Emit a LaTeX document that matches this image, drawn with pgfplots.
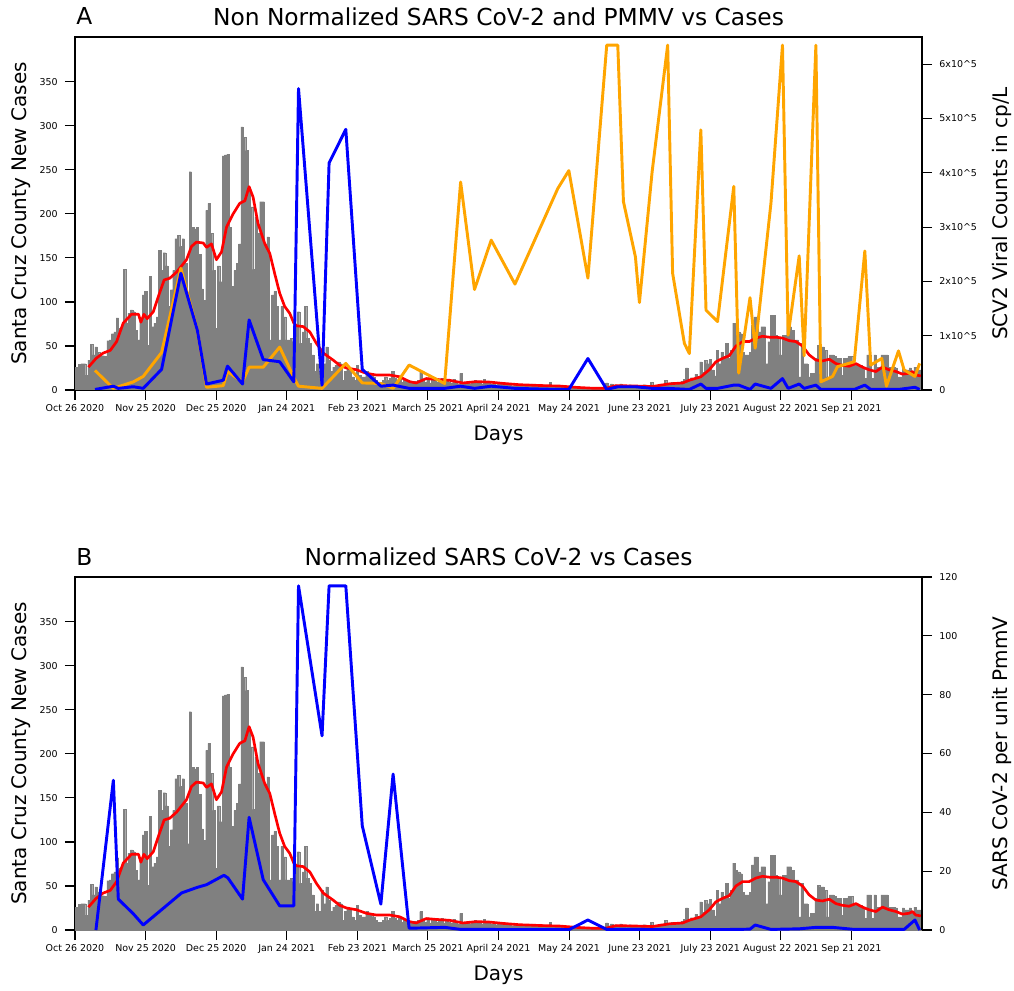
\documentclass[border=0pt]{standalone}
\usepackage{fontspec}
\setmainfont{DejaVu Sans}
\usepackage{pgfplots}
\pgfplotsset{compat=1.18}
\usepackage{pgfplotstable}

\definecolor{mplgray}{HTML}{808080}
\definecolor{mplorange}{HTML}{FFA500}

\pgfplotstableread[row sep=\\]{
d c\\
0 26\\ 1 26\\ 2 29\\ 3 30\\ 4 30\\ 5 17\\ 6 34\\ 7 52\\ 8 40\\ 9 49\\
10 43\\ 11 38\\ 12 39\\ 13 38\\ 14 56\\ 15 57\\ 16 64\\ 17 66\\ 18 82\\ 19 70\\
20 72\\ 21 137\\ 22 76\\ 23 87\\ 24 91\\ 25 89\\ 26 68\\ 27 57\\ 28 79\\ 29 108\\
30 112\\ 31 51\\ 32 129\\ 33 72\\ 34 76\\ 35 83\\ 36 159\\ 37 136\\ 38 156\\ 39 141\\
40 95\\ 41 114\\ 42 136\\ 43 172\\ 44 176\\ 45 163\\ 46 172\\ 47 144\\ 48 98\\ 49 248\\
50 185\\ 51 183\\ 52 185\\ 53 154\\ 54 115\\ 55 102\\ 56 204\\ 57 212\\ 58 178\\ 59 136\\
60 70\\ 61 141\\ 62 123\\ 63 266\\ 64 267\\ 65 268\\ 66 185\\ 67 118\\ 68 136\\ 69 144\\
70 166\\ 71 299\\ 72 287\\ 73 272\\ 74 227\\ 75 208\\ 76 137\\ 77 197\\ 78 178\\ 79 214\\
80 214\\ 81 166\\ 82 174\\ 83 57\\ 84 108\\ 85 112\\ 86 95\\ 87 57\\ 88 95\\ 89 83\\
90 57\\ 91 57\\ 92 59\\ 93 55\\ 94 72\\ 95 89\\ 96 53\\ 97 66\\ 98 95\\ 99 59\\
100 53\\ 101 40\\ 102 21\\ 103 30\\ 104 21\\ 105 45\\ 106 30\\ 107 49\\ 108 34\\ 109 21\\
110 26\\ 111 28\\ 112 32\\ 113 30\\ 114 11\\ 115 21\\ 116 26\\ 117 23\\ 118 15\\ 119 11\\
120 28\\ 121 17\\ 122 15\\ 123 15\\ 124 21\\ 125 19\\ 126 17\\ 127 15\\ 128 11\\ 129 9\\
130 9\\ 131 11\\ 132 15\\ 133 11\\ 134 13\\ 135 21\\ 136 13\\ 137 11\\ 138 15\\ 139 9\\
140 12\\ 141 10\\ 142 8\\ 143 9\\ 144 10\\ 145 7\\ 146 11\\ 147 21\\ 148 12\\ 149 9\\
150 14\\ 151 8\\ 152 11\\ 153 12\\ 154 9\\ 155 10\\ 156 13\\ 157 8\\ 158 11\\ 159 9\\
160 8\\ 161 12\\ 162 10\\ 163 7\\ 164 19\\ 165 9\\ 166 8\\ 167 10\\ 168 7\\ 169 9\\
170 11\\ 171 8\\ 172 9\\ 173 7\\ 174 12\\ 175 8\\ 176 9\\ 177 7\\ 178 8\\ 179 6\\
180 9\\ 181 7\\ 182 6\\ 183 8\\ 184 7\\ 185 6\\ 186 5\\ 187 7\\ 188 6\\ 189 5\\
190 6\\ 191 5\\ 192 6\\ 193 4\\ 194 7\\ 195 5\\ 196 6\\ 197 4\\ 198 5\\ 199 6\\
200 4\\ 201 5\\ 202 9\\ 203 4\\ 204 5\\ 205 3\\ 206 4\\ 207 5\\ 208 3\\ 209 4\\
210 3\\ 211 2\\ 212 3\\ 213 3\\ 214 2\\ 215 3\\ 216 2\\ 217 2\\ 218 1\\ 219 2\\
220 2\\ 221 1\\ 222 2\\ 223 2\\ 224 1\\ 225 3\\ 226 8\\ 227 5\\ 228 7\\ 229 4\\
230 6\\ 231 5\\ 232 7\\ 233 4\\ 234 5\\ 235 3\\ 236 6\\ 237 4\\ 238 5\\ 239 4\\
240 3\\ 241 4\\ 242 6\\ 243 3\\ 244 4\\ 245 9\\ 246 4\\ 247 5\\ 248 6\\ 249 7\\
250 6\\ 251 11\\ 252 8\\ 253 7\\ 254 9\\ 255 6\\ 256 8\\ 257 7\\ 258 10\\ 259 12\\
260 25\\ 261 10\\ 262 14\\ 263 12\\ 264 18\\ 265 15\\ 266 32\\ 267 20\\ 268 34\\ 269 30\\
270 35\\ 271 23\\ 272 16\\ 273 45\\ 274 30\\ 275 43\\ 276 38\\ 277 53\\ 278 36\\ 279 45\\
280 76\\ 281 68\\ 282 66\\ 283 64\\ 284 43\\ 285 40\\ 286 40\\ 287 43\\ 288 74\\ 289 83\\
290 83\\ 291 66\\ 292 72\\ 293 72\\ 294 30\\ 295 55\\ 296 85\\ 297 85\\ 298 62\\ 299 60\\
300 40\\ 301 62\\ 302 62\\ 303 72\\ 304 72\\ 305 68\\ 306 57\\ 307 57\\ 308 15\\ 309 53\\
310 30\\ 311 30\\ 312 15\\ 313 19\\ 314 19\\ 315 36\\ 316 51\\ 317 49\\ 318 49\\ 319 45\\
320 15\\ 321 40\\ 322 40\\ 323 38\\ 324 36\\ 325 36\\ 326 17\\ 327 36\\ 328 36\\ 329 38\\
330 38\\ 331 30\\ 332 30\\ 333 28\\ 334 28\\ 335 26\\ 336 13\\ 337 40\\ 338 40\\ 339 13\\
340 40\\ 341 26\\ 342 26\\ 343 40\\ 344 40\\ 345 40\\ 346 26\\ 347 26\\ 348 26\\ 349 25\\
350 15\\ 351 15\\ 352 25\\ 353 23\\ 354 23\\ 355 25\\ 356 19\\ 357 26\\ 358 23\\ 359 23\\
}\cases

\pgfplotstableread[row sep=\\]{
d r\\
5.7 26\\ 9 36\\ 12 42\\ 15 45\\ 17.7 55\\ 20.5 76\\ 24 86\\ 27 86\\ 28 77\\ 29.3 86\\
30.7 81\\ 33.3 89\\ 35.4 106\\ 37.9 125\\ 40.3 127\\ 43.2 134\\ 47.4 148\\ 49.5 163\\ 51.6 168\\ 54.5 167\\
55.9 162\\ 58 166\\ 60.1 148\\ 62.3 157\\ 64.4 185\\ 67.2 200\\ 70 212\\ 72.2 215\\ 74 231\\ 75.7 219\\
77.8 189\\ 80.7 166\\ 82.8 155\\ 84.9 132\\ 87 110\\ 89.1 95\\ 91.3 87\\ 93 76\\ 94.1 73\\ 97 72\\
99.8 66\\ 102.6 53\\ 105.5 42\\ 109.7 34\\ 112.5 28\\ 115.4 25\\ 119.6 23\\ 123.8 19\\ 128.1 17\\ 133.8 17\\
138 15\\ 142.2 9.5\\ 145 8\\ 149.3 13\\ 153.6 12\\ 159.2 11\\ 164.9 8\\ 170.5 9.5\\ 176.2 9\\ 181.9 7.5\\
189 6\\ 198.9 5\\ 206 4.5\\ 213 3\\ 220 2\\ 225.7 2\\ 230 5\\ 238.5 4.5\\ 245.5 4\\ 252.6 7\\
258.3 8\\ 261 11\\ 266 15\\ 269.6 23\\ 272.4 32\\ 275.3 36\\ 278.1 39\\ 280.9 50\\ 283.8 55\\ 286.6 55\\
289.4 59\\ 292.2 61\\ 295.1 60\\ 297.9 60\\ 300.7 59\\ 303.6 56\\ 306.4 55\\ 309.2 50\\ 312 40\\ 314.9 34\\
317.7 33\\ 320.6 35\\ 323.4 30\\ 326.2 28\\ 329 27\\ 331.9 30\\ 334.7 26\\ 337.5 23\\ 340.4 21\\ 343.2 26\\
346 23\\ 348.9 21\\ 351.7 18\\ 354.5 19\\ 356 21\\ 357.3 17\\ 359.5 16\\
}\avg

% PMMV (units of 1e5 cp/L)
\pgfplotstableread[row sep=\\]{
d o\\
8.5 0.36\\ 16.3 0.03\\ 18.4 0.06\\ 24.8 0.15\\ 29 0.25\\ 36.8 0.69\\ 45 2.24\\ 52 1.1\\ 55.9 0.05\\ 63 0.08\\
64.8 0.34\\ 71.2 0.15\\ 74 0.42\\ 80 0.42\\ 87 0.79\\ 93 0.23\\ 95 0.07\\ 105 0.03\\ 115.1 0.49\\ 122.1 0.13\\
130 0.12\\ 135.2 0.03\\ 142 0.46\\ 157.1 0.12\\ 163.9 3.83\\ 169.8 1.85\\ 176.9 2.76\\ 187 1.95\\ 205.2 3.71\\ 209.9 4.04\\
218 2.06\\ 226 6.35\\ 230.7 6.35\\ 233.1 3.47\\ 238.2 2.45\\ 239.9 1.61\\ 245.3 4.02\\ 251.9 6.35\\ 254 2.15\\ 259 0.86\\
261.1 0.67\\ 266 4.79\\ 268.2 1.47\\ 273.1 1.26\\ 280 3.75\\ 282.1 0.31\\ 286.9 1.7\\ 289.1 0.77\\ 295.8 3.44\\ 300.7 6.35\\
303.1 1.01\\ 307.8 2.47\\ 309.9 0.63\\ 314.9 6.35\\ 317 0.15\\ 322 0.25\\ 324.1 0.43\\ 331.2 0.52\\ 335.7 2.56\\ 338.2 0.46\\
342.9 0.58\\ 344.9 0.07\\ 350 0.72\\ 352.4 0.37\\ 357 0.25\\ 359 0.49\\
}\pmmv

% SARS CoV-2 (units of 1e5 cp/L)
\pgfplotstableread[row sep=\\]{
d b\\
8.5 0.01\\ 16.3 0.07\\ 18.4 0.03\\ 24.8 0.06\\ 29 0.03\\ 36.8 0.38\\ 45 2.15\\ 52 1.1\\ 55.9 0.11\\ 63 0.18\\
64.8 0.44\\ 71.2 0.11\\ 74 1.29\\ 80 0.56\\ 87 0.52\\ 93 0.15\\ 95 5.55\\ 105 0.09\\ 108 4.18\\ 115.1 4.8\\
122.1 0.38\\ 130 0.07\\ 135.2 0.09\\ 142 0.03\\ 157.1 0.03\\ 163.9 0.07\\ 169.8 0.03\\ 176.9 0.07\\ 187 0.03\\ 205.2 0.01\\
209.9 0.01\\ 218 0.58\\ 226 0.01\\ 230.7 0.06\\ 238.2 0.06\\ 245.3 0.03\\ 251.9 0.03\\ 261.1 0.01\\ 266 0.11\\ 268.2 0.03\\
273.1 0.03\\ 280 0.09\\ 282.1 0.09\\ 286.9 0.01\\ 289.1 0.11\\ 295.8 0.03\\ 300.7 0.21\\ 303.1 0.03\\ 307.8 0.11\\ 309.9 0.03\\
314.9 0.09\\ 317 0.01\\ 331.2 0.01\\ 335.7 0.09\\ 338.2 0.01\\ 350 0.01\\ 357 0.05\\ 359 0.01\\
}\scvA

% SARS CoV-2 per unit PMMV
\pgfplotstableread[row sep=\\]{
d n\\
8.9 0\\ 16.3 50.9\\ 18.4 10.5\\ 24.8 5.5\\ 29 1.7\\ 36.8 6.9\\ 45.3 12.6\\ 52 14.5\\ 55.9 15.4\\ 63.3 18.6\\
65 17.7\\ 71.2 10.5\\ 74 38.3\\ 80 17.1\\ 87 8.2\\ 93 8.2\\ 95 117\\ 105 66\\ 108 117\\ 115.1 117\\
122.1 35.4\\ 130 8.8\\ 135.2 53\\ 142 0.6\\ 157.1 0.9\\ 163.9 0.2\\ 176.9 0.2\\ 187 0.1\\ 209.9 0.1\\ 218 3.4\\
226 0.2\\ 238.2 0.2\\ 261.1 0.1\\ 282.1 0.2\\ 286.9 0.3\\ 289.1 1.7\\ 295.8 0.2\\ 307.8 0.4\\ 314.9 0.9\\ 322 0.9\\
331.2 0.2\\ 352.4 0.2\\ 357 3.4\\ 359 0\\
}\scvB

\pgfplotsset{
  common/.style={
    scale only axis, width=635.25pt, height=264.75pt, anchor=south west,
    xmin=0, xmax=360, ymin=0,
    axis line style={line width=1.1pt},
    tick align=outside, major tick length=7.5pt,
    every tick/.style={black, line width=0.8pt},
    tick label style={font=\fontsize{7.1}{8.5}\selectfont},
    /pgf/number format/assume math mode=true,
    label style={font=\fontsize{15}{18}\selectfont},
  },
  basel/.style={
    common, ymax=401,
    xtick={0,30,...,330},
    xticklabels={Oct 26 2020, Nov 25 2020, Dec 25 2020, Jan 24 2021, Feb 23 2021, March 25 2021, April 24 2021, May 24 2021, June 23 2021, July 23 2021, August 22 2021, Sep 21 2021},
    ytick={0,50,...,350},
    xtick pos=left, ytick pos=left,
    yticklabel style={xshift=-2pt},
    xlabel={Days},
    xlabel style={at={(axis description cs:0.5,-0.127)}, anchor=center},
    ylabel={Santa Cruz County New Cases},
    ylabel style={at={(axis description cs:-0.064,0.5)}, anchor=center},
    title style={at={(axis description cs:0.5,1)}, anchor=base, yshift=2.5pt, font=\fontsize{17.5}{21}\selectfont},
  },
  baser/.style={
    common,
    axis x line=none, axis y line*=right,
    yticklabel style={xshift=2pt},
    ylabel style={at={(axis description cs:1.094,0.5)}, anchor=center},
  },
}

\begin{document}
\begin{tikzpicture}[x=1pt,y=1pt]
\useasboundingbox (0,0) rectangle (760.5,742.5);
% ---------- Panel A ----------
\begin{axis}[basel, name=axA, at={(56.25pt,450pt)}, title={Non Normalized SARS CoV-2 and PMMV vs Cases}]
\addplot[ybar, bar width=1, bar shift=0pt, fill=mplgray, draw=mplgray, line width=0.1pt] table[x=d,y=c]{\cases};
\addplot[red, line width=2pt, line join=round] table[x=d,y=r]{\avg};
\end{axis}
\begin{axis}[baser, at={(56.25pt,450pt)}, ymax=6.5, ytick={0,1,...,6},
  yticklabels={0,1x10\textasciicircum 5,2x10\textasciicircum 5,3x10\textasciicircum 5,4x10\textasciicircum 5,5x10\textasciicircum 5,6x10\textasciicircum 5},
  ylabel={SCV2 Viral Counts in cp/L}]
\addplot[mplorange, line width=2.2pt, line join=round] table[x=d,y=o]{\pmmv};
\addplot[blue, line width=2.2pt, line join=round] table[x=d,y=b]{\scvA};
\end{axis}
\node[anchor=base west, inner sep=0pt, font=\fontsize{17.5}{21}\selectfont, xshift=0.75pt, yshift=9pt] at (axA.north west) {A};
% ---------- Panel B ----------
\begin{axis}[basel, name=axB, at={(56.25pt,45pt)}, title={Normalized SARS CoV-2 vs Cases}]
\addplot[ybar, bar width=1, bar shift=0pt, fill=mplgray, draw=mplgray, line width=0.1pt] table[x=d,y=c]{\cases};
\addplot[red, line width=2pt, line join=round] table[x=d,y=r]{\avg};
\end{axis}
\begin{axis}[baser, at={(56.25pt,45pt)}, ymax=120, ytick={0,20,...,120},
  ylabel={SARS CoV-2 per unit PmmV}]
\addplot[blue, line width=2.2pt, line join=round] table[x=d,y=n]{\scvB};
\end{axis}
\node[anchor=base west, inner sep=0pt, font=\fontsize{17.5}{21}\selectfont, xshift=0.75pt, yshift=9pt] at (axB.north west) {B};
\end{tikzpicture}
\end{document}
